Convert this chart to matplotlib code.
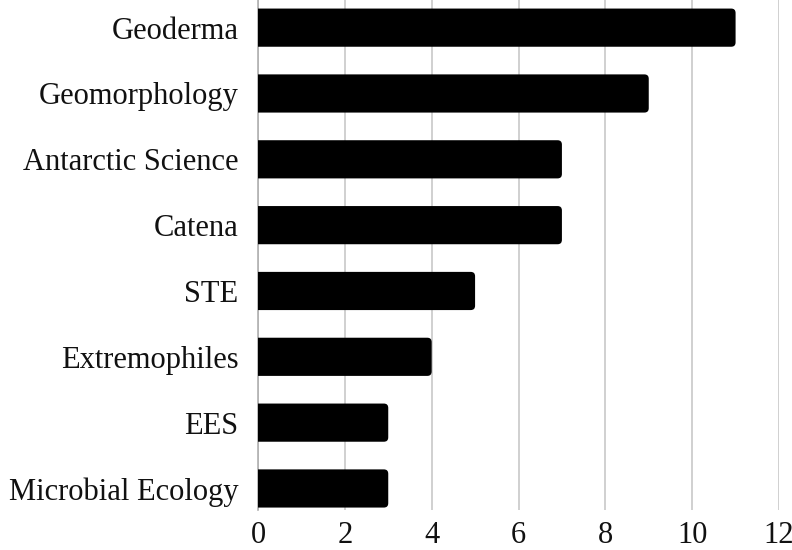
import matplotlib
matplotlib.use("Agg")
import matplotlib.pyplot as plt
from matplotlib.patches import FancyBboxPatch

journals = ["Microbial Ecology", "EES", "Extremophiles", "STE", "Catena",
            "Antarctic Science", "Geomorphology", "Geoderma"]
counts = [3, 3, 4, 5, 7, 7, 9, 11]
xticks = [0, 2, 4, 6, 8, 10, 12]

plt.rcParams['font.family'] = ['Liberation Serif', 'DejaVu Serif']

fig = plt.figure(figsize=(7.92, 5.5), dpi=100)
ax = fig.add_axes([258/792, 1 - 510/550, (779-258)/792, 510/550])

ypos = list(range(len(journals)))
bars = ax.barh(ypos, counts, height=0.58, color='black', zorder=3)
# replace with bars rounded at the right end (left end is clipped at the axis)
ext = 0.4
for b in bars:
    x0, y0, w, h = b.get_x(), b.get_y(), b.get_width(), b.get_height()
    b.set_visible(False)
    p = FancyBboxPatch((x0 - ext, y0), w + ext, h,
                       boxstyle="round,pad=0,rounding_size=0.1",
                       mutation_aspect=0.66, fc='black', ec='none', zorder=3)
    ax.add_patch(p)
    p.set_clip_path(ax.patch)

ax.set_xlim(0, 12)
ax.set_ylim(-0.327, 7.42)
ax.set_xticks(xticks)
ax.set_xticklabels([str(t) for t in xticks])
ax.set_yticks(ypos)
ax.set_yticklabels(journals)
ax.tick_params(axis='both', length=0, labelsize=22, colors='#111111')
ax.tick_params(axis='y', pad=14)
ax.tick_params(axis='x', pad=8)
ax.grid(axis='x', color='#c8c8c8', linewidth=1.2, zorder=0)
for s in ['top', 'right', 'bottom']:
    ax.spines[s].set_visible(False)
ax.spines['left'].set_color('#b0b0b0')
ax.spines['left'].set_linewidth(1.2)

fig.savefig("out.png", dpi=100)
